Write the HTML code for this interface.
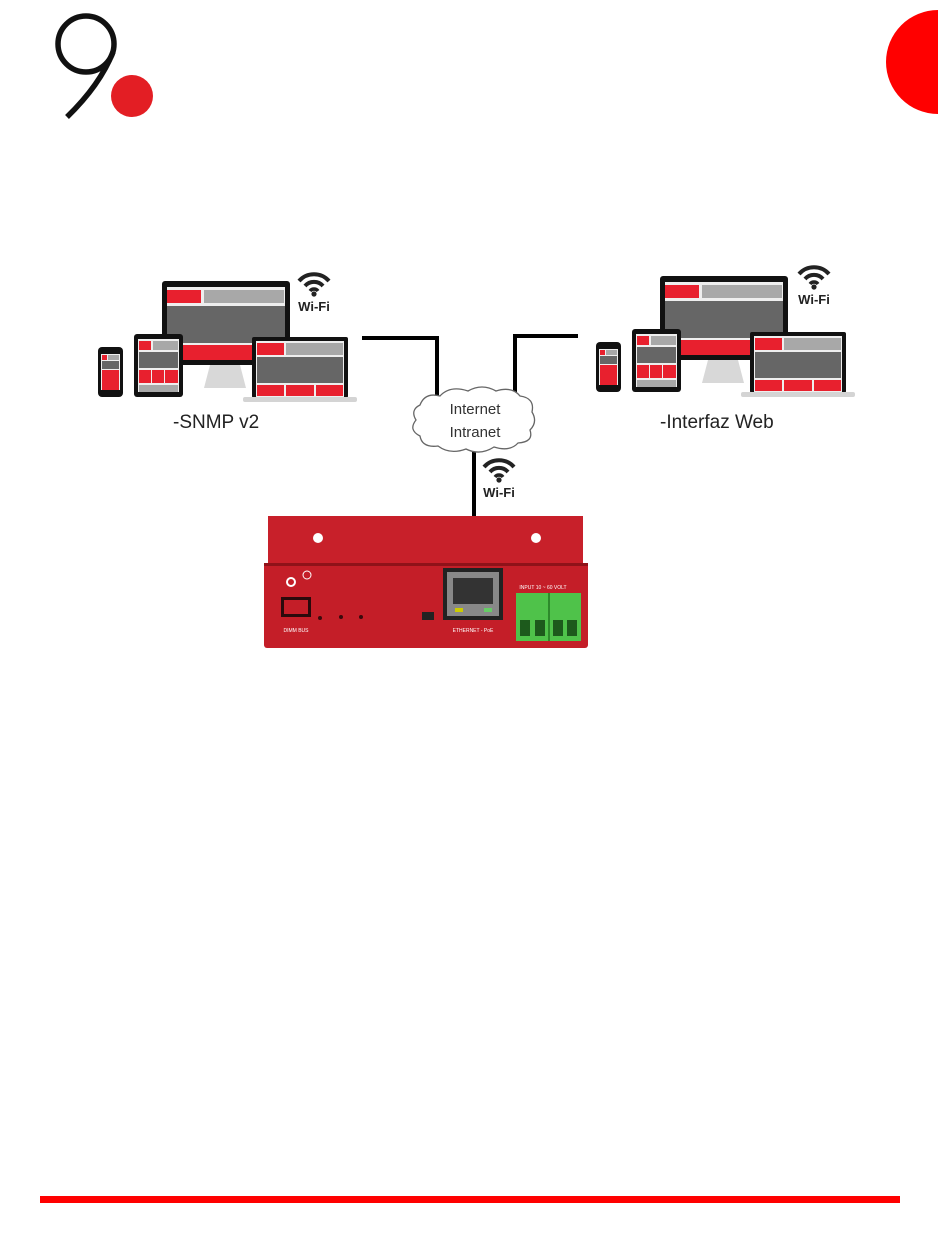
<!DOCTYPE html>
<html><head><meta charset="utf-8"><style>
html,body{margin:0;padding:0;background:#fff;width:950px;height:1248px;overflow:hidden}
svg{display:block}
text{font-family:"Liberation Sans",sans-serif}
</style></head><body>
<svg width="950" height="1248" viewBox="0 0 950 1248" xmlns="http://www.w3.org/2000/svg">
<defs>
<clipPath id="hc"><rect x="800" y="0" width="138" height="200"/></clipPath>
<g id="wifi">
 <path d="M2 9 A20 20 0 0 1 32 9" fill="none" stroke="#222" stroke-width="4"/>
 <path d="M8 14 A12 12 0 0 1 26 14" fill="none" stroke="#222" stroke-width="4"/>
 <path d="M13 19 A5 5 0 0 1 21 19" fill="none" stroke="#222" stroke-width="3.5"/>
 <circle cx="17" cy="22" r="2.6" fill="#222"/>
</g>
<g id="devs">
 <rect x="162" y="281" width="128" height="84" rx="3" fill="#111"/>
 <rect x="167" y="287" width="118" height="73" fill="#eee"/>
 <rect x="167" y="290" width="34" height="13" fill="#e8202e"/>
 <rect x="204" y="290" width="80" height="13" fill="#a8a8a8"/>
 <rect x="167" y="306" width="118" height="37" fill="#666"/>
 <rect x="167" y="345" width="118" height="15" fill="#e8202e"/>
 <path d="M210 365 L240 365 L246 388 L204 388 Z" fill="#d8d8d8"/>
 <rect x="134" y="334" width="49" height="63" rx="3" fill="#111"/>
 <rect x="138" y="339" width="41" height="53" fill="#eee"/>
 <rect x="139" y="341" width="12" height="9" fill="#e8202e"/>
 <rect x="153" y="341" width="25" height="9" fill="#a8a8a8"/>
 <rect x="139" y="352" width="39" height="16" fill="#666"/>
 <rect x="139" y="370" width="12" height="13" fill="#e8202e"/>
 <rect x="152" y="370" width="12" height="13" fill="#e8202e"/>
 <rect x="165" y="370" width="13" height="13" fill="#e8202e"/>
 <rect x="139" y="385" width="39" height="7" fill="#a8a8a8"/>
 <rect x="98" y="347" width="25" height="50" rx="4" fill="#111"/>
 <rect x="101" y="354" width="19" height="36" fill="#eee"/>
 <rect x="102" y="355" width="5" height="5" fill="#e8202e"/>
 <rect x="108" y="355" width="11" height="5" fill="#a8a8a8"/>
 <rect x="102" y="361" width="17" height="8" fill="#666"/>
 <rect x="102" y="370" width="17" height="20" fill="#e8202e"/>
 <rect x="252" y="337" width="96" height="61" rx="2" fill="#111"/>
 <rect x="256" y="341" width="88" height="56" fill="#eee"/>
 <rect x="257" y="343" width="27" height="12" fill="#e8202e"/>
 <rect x="286" y="343" width="57" height="12" fill="#a8a8a8"/>
 <rect x="257" y="357" width="86" height="26" fill="#666"/>
 <rect x="257" y="385" width="27" height="11" fill="#e8202e"/>
 <rect x="286" y="385" width="28" height="11" fill="#e8202e"/>
 <rect x="316" y="385" width="27" height="11" fill="#e8202e"/>
 <rect x="243" y="397" width="114" height="5" rx="2" fill="#d4d4d4"/>
</g>
</defs>

<!-- logo -->
<circle cx="86" cy="44" r="28" fill="none" stroke="#111" stroke-width="5.5"/>
<path d="M113 52 Q100 85 67 117" stroke="#111" stroke-width="5.5" fill="none"/>
<circle cx="132" cy="96" r="21" fill="#e31e24"/>
<circle cx="938" cy="62" r="52" fill="#ff0000" clip-path="url(#hc)"/>

<use href="#devs"/>
<use href="#devs" transform="translate(498,-5)"/>
<use href="#wifi" transform="translate(297,272)"/>
<text x="314" y="311" font-size="13" font-weight="bold" text-anchor="middle" fill="#222">Wi-Fi</text>
<use href="#wifi" transform="translate(797,265)"/>
<text x="814" y="304" font-size="13" font-weight="bold" text-anchor="middle" fill="#222">Wi-Fi</text>
<use href="#wifi" transform="translate(482,458)"/>
<text x="499" y="497" font-size="13" font-weight="bold" text-anchor="middle" fill="#222">Wi-Fi</text>

<text x="173" y="428" font-size="19" fill="#222">-SNMP v2</text>
<text x="660" y="428" font-size="19" fill="#222">-Interfaz Web</text>

<path d="M362 338 H437 V398" fill="none" stroke="#000" stroke-width="4"/>
<path d="M578 336 H515 V392" fill="none" stroke="#000" stroke-width="4"/>
<path d="M474 448 V518" fill="none" stroke="#000" stroke-width="4"/>

<path d="M420 405 Q425 392 440 396 Q450 385 468 391 Q482 383 496 391 Q512 386 520 396 Q535 398 532 412 Q538 422 530 430 Q534 442 518 443 Q510 452 494 447 Q480 456 466 449 Q450 455 438 446 Q422 448 420 436 Q408 430 416 420 Q410 410 420 405 Z" fill="#fff" stroke="#666" stroke-width="1.3"/>
<text x="475" y="414" font-size="15" text-anchor="middle" fill="#333">Internet</text>
<text x="475" y="437" font-size="15" text-anchor="middle" fill="#333">Intranet</text>

<rect x="268" y="516" width="315" height="50" fill="#c8202a"/>
<circle cx="318" cy="538" r="5" fill="#fff"/>
<circle cx="536" cy="538" r="5" fill="#fff"/>
<rect x="264" y="563" width="324" height="85" rx="3" fill="#c41e28"/>
<rect x="264" y="563" width="324" height="3" fill="#8f1219"/>
<circle cx="291" cy="582" r="4" fill="none" stroke="#fff" stroke-width="2"/>
<circle cx="307" cy="575" r="4" fill="none" stroke="#fff" stroke-width="1"/>
<rect x="281" y="597" width="30" height="20" fill="#2a0a0c"/>
<rect x="284" y="600" width="24" height="14" fill="#c41e28"/>
<text x="296" y="632" font-size="5" fill="#fff" text-anchor="middle">DIMM BUS</text>
<circle cx="320" cy="618" r="2" fill="#3a0a0c"/>
<circle cx="341" cy="617" r="2" fill="#3a0a0c"/>
<circle cx="361" cy="617" r="2" fill="#3a0a0c"/>
<rect x="422" y="612" width="12" height="8" fill="#222"/>
<rect x="443" y="568" width="60" height="52" fill="#222"/>
<rect x="447" y="572" width="52" height="44" fill="#888"/>
<rect x="453" y="578" width="40" height="26" fill="#333"/>
<rect x="455" y="608" width="8" height="4" fill="#cc0"/>
<rect x="484" y="608" width="8" height="4" fill="#6c6"/>
<text x="473" y="632" font-size="5" fill="#fff" text-anchor="middle">ETHERNET - PoE</text>
<text x="543" y="589" font-size="5" fill="#fff" text-anchor="middle">INPUT 10 ~ 60 VOLT</text>
<rect x="516" y="593" width="65" height="48" fill="#4fc24a"/>
<rect x="548" y="593" width="2" height="48" fill="#2d8a2b"/>
<rect x="520" y="620" width="10" height="16" fill="#1d5a1c"/>
<rect x="535" y="620" width="10" height="16" fill="#1d5a1c"/>
<rect x="553" y="620" width="10" height="16" fill="#1d5a1c"/>
<rect x="567" y="620" width="10" height="16" fill="#1d5a1c"/>

<rect x="40" y="1196" width="860" height="7" fill="#ff0000"/>
</svg>
</body></html>
